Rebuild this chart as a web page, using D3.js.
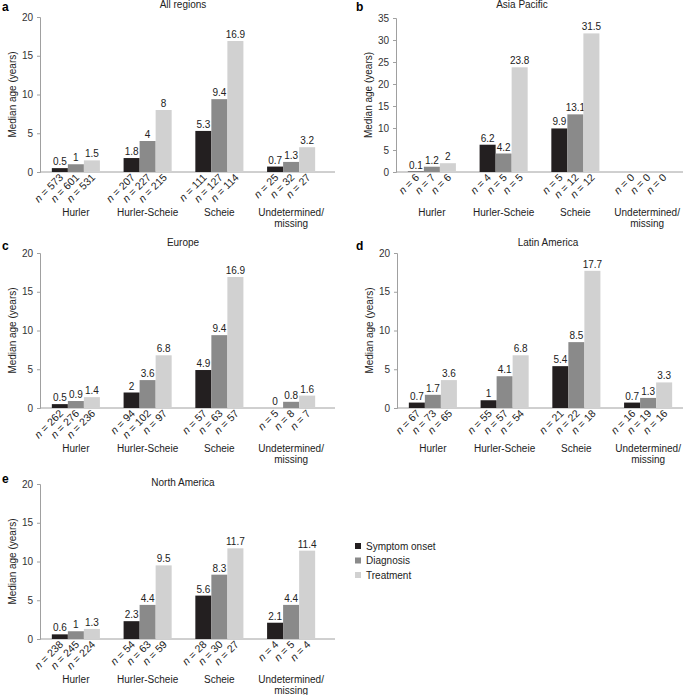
<!DOCTYPE html>
<html>
<head>
<meta charset="utf-8">
<script src="https://cdn.jsdelivr.net/npm/d3@7"></script>
<style>
  body { margin: 0; background: #fff; }
  svg { font-family: "Liberation Sans", Arial, sans-serif; }
  .axis path, .axis line { stroke: #a0a0a0; }
  .axis text { fill: #333; font-size: 10px; }
</style>
</head>
<body>
<div id="chart"></div>
<script>
// categories and series
var categories = ["Hurler", "Hurler-Scheie", "Scheie", "Undetermined/missing"];
var series = ["Symptom onset", "Diagnosis", "Treatment"];
var colors = ["#231f20", "#8a8a8a", "#d1d1d1"];

// median age (years), one row per category: [onset, diagnosis, treatment]
var allRegionsAge = [[0.5, 1, 1.5], [1.8, 4, 8], [5.3, 9.4, 16.9], [0.7, 1.3, 3.2]];
var asiaPacificAge = [[0.1, 1.2, 2], [6.2, 4.2, 23.8], [9.9, 13.1, 31.5], [null, null, null]];
var europeAge = [[0.5, 0.9, 1.4], [2, 3.6, 6.8], [4.9, 9.4, 16.9], [0, 0.8, 1.6]];
var latinAmericaAge = [[0.7, 1.7, 3.6], [1, 4.1, 6.8], [5.4, 8.5, 17.7], [0.7, 1.3, 3.3]];
var northAmericaAge = [[0.6, 1, 1.3], [2.3, 4.4, 9.5], [5.6, 8.3, 11.7], [2.1, 4.4, 11.4]];

// patient counts
var allRegionsN = [[573, 601, 531], [207, 227, 215], [111, 127, 114], [25, 32, 27]];
var asiaPacificN = [[6, 7, 6], [4, 5, 5], [5, 12, 12], [0, 0, 0]];
var europeN = [[262, 276, 236], [94, 102, 97], [57, 63, 57], [5, 8, 7]];
var latinAmericaN = [[67, 73, 65], [55, 57, 54], [21, 22, 18], [16, 19, 16]];
var northAmericaN = [[238, 245, 224], [54, 63, 59], [28, 30, 27], [4, 5, 4]];

// y axis ticks
var ticks20 = [0, 5, 10, 15, 20];
var ticks35 = [0, 5, 10, 15, 20, 25, 30, 35];

// panel layout
var panels = [
  { letter: "a", title: "All regions", age: allRegionsAge, n: allRegionsN, ticks: ticks20,
    ax: 40, y0: 172, yTop: 17, axisLen: 295, titleX: 183, titleY: 8, letterX: 2, letterY: 11 },
  { letter: "b", title: "Asia Pacific", age: asiaPacificAge, n: asiaPacificN, ticks: ticks35,
    ax: 396, y0: 172, yTop: 18, axisLen: 287, titleX: 522, titleY: 8, letterX: 356, letterY: 11 },
  { letter: "c", title: "Europe", age: europeAge, n: europeN, ticks: ticks20,
    ax: 40, y0: 408, yTop: 253, axisLen: 295, titleX: 183, titleY: 246, letterX: 2, letterY: 250 },
  { letter: "d", title: "Latin America", age: latinAmericaAge, n: latinAmericaN, ticks: ticks20,
    ax: 397, y0: 408, yTop: 253, axisLen: 286, titleX: 548, titleY: 246, letterX: 356, letterY: 250 },
  { letter: "e", title: "North America", age: northAmericaAge, n: northAmericaN, ticks: ticks20,
    ax: 40, y0: 639, yTop: 484, axisLen: 295, titleX: 183, titleY: 486, letterX: 2, letterY: 483 }
];

var svg = d3.select("#chart")
  .append("svg")
  .attr("width", 685)
  .attr("height", 695);

panels.forEach(function(p) {
  var g = svg.append("g");

  var y = d3.scaleLinear()
    .domain([0, d3.max(p.ticks)])
    .range([p.y0, p.yTop]);

  var x0 = d3.scaleBand()
    .domain(categories)
    .range([p.ax, p.ax + 287])
    .paddingInner(0.33)
    .paddingOuter(0.165);

  var x1 = d3.scaleBand()
    .domain(series)
    .range([0, x0.bandwidth()]);

  // y axis
  g.append("g")
    .attr("class", "axis")
    .attr("transform", `translate(${p.ax},0)`)
    .call(d3.axisLeft(y).tickValues(p.ticks).tickSize(3).tickSizeOuter(3))
    .call(s => s.selectAll("text").attr("dx", "-1"));

  // x axis line
  g.append("line")
    .attr("x1", p.ax).attr("x2", p.ax + p.axisLen)
    .attr("y1", p.y0).attr("y2", p.y0)
    .attr("stroke", "#a0a0a0");

  var rows = g.selectAll(".cat")
    .data(categories)
    .enter()
    .append("g")
    .attr("transform", d => `translate(${x0(d)},0)`);

  rows.each(function(cat, ci) {
    var row = d3.select(this);
    series.forEach(function(s, si) {
      var v = p.age[ci][si];
      var cx = x1(s) + x1.bandwidth() / 2;
      if (v !== null) {
        row.append("rect")
          .attr("x", x1(s))
          .attr("y", y(v))
          .attr("width", x1.bandwidth())
          .attr("height", p.y0 - y(v))
          .attr("fill", colors[si]);
        row.append("text")
          .attr("x", cx)
          .attr("y", y(v) - 3)
          .attr("text-anchor", "middle")
          .attr("font-size", "10px")
          .attr("fill", "#222")
          .text(v);
      }
      // rotated n label
      var t = row.append("text")
        .attr("transform", `translate(${cx + 4},${p.y0 + 6}) rotate(-45)`)
        .attr("text-anchor", "end")
        .attr("font-size", "10.5px")
        .attr("fill", "#222");
      t.append("tspan").attr("font-style", "italic").text("n");
      t.append("tspan").text(" = " + p.n[ci][si]);
    });

    // category label
    var lines = cat === "Undetermined/missing" ? ["Undetermined/", "missing"] : [cat];
    lines.forEach(function(l, li) {
      row.append("text")
        .attr("x", x0.bandwidth() / 2)
        .attr("y", p.y0 + 44 + li * 11)
        .attr("text-anchor", "middle")
        .attr("font-size", "10px")
        .attr("fill", "#222")
        .text(l);
    });
  });

  // y label
  g.append("text")
    .attr("transform", `translate(${p.ax - 24},${(p.y0 + p.yTop) / 2}) rotate(-90)`)
    .attr("text-anchor", "middle")
    .attr("font-size", "10px")
    .attr("fill", "#222")
    .text("Median age (years)");

  // title
  g.append("text")
    .attr("x", p.titleX)
    .attr("y", p.titleY)
    .attr("text-anchor", "middle")
    .attr("font-size", "10px")
    .attr("fill", "#222")
    .text(p.title);

  // panel letter
  g.append("text")
    .attr("x", p.letterX)
    .attr("y", p.letterY)
    .attr("font-size", "12px")
    .attr("font-weight", "bold")
    .text(p.letter);
});

// legend
var legend = svg.append("g")
  .attr("transform", "translate(355,546)");

series.forEach(function(s, i) {
  legend.append("rect")
    .attr("x", 0)
    .attr("y", i * 14.5 - 3)
    .attr("width", 6)
    .attr("height", 6)
    .attr("fill", colors[i]);
  legend.append("text")
    .attr("x", 11)
    .attr("y", i * 14.5 + 3.5)
    .attr("font-size", "10px")
    .attr("fill", "#222")
    .text(s);
});
</script>
</body>
</html>
